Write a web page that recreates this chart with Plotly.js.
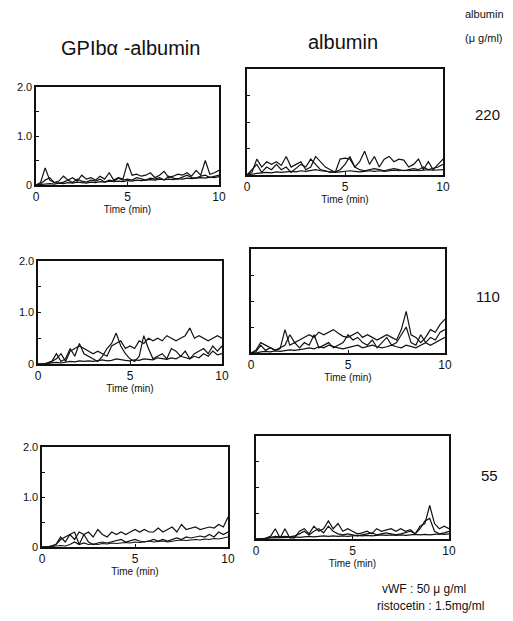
<!DOCTYPE html>
<html><head><meta charset="utf-8">
<script src="https://cdn.plot.ly/plotly-3.0.1.min.js"></script>
<style>html,body{margin:0;padding:0;background:#fff}</style>
</head><body><div id="chart" style="width:513px;height:621px"></div>
<script>
// time points (min)
const time = [0,0.25,0.5,0.75,1,1.25,1.5,1.75,2,2.25,2.5,2.75,3,3.25,3.5,3.75,4,4.25,4.5,4.75,5,5.25,5.5,5.75,6,6.25,6.5,6.75,7,7.25,7.5,7.75,8,8.25,8.5,8.75,9,9.25,9.5,9.75,10];

// GPIbα-albumin, 220 µg/ml
const gpib220_a = [0,0.05,0.35,0.1,0.05,0.08,0.18,0.1,0.15,0.08,0.2,0.12,0.15,0.1,0.18,0.12,0.25,0.1,0.15,0.12,0.45,0.2,0.22,0.18,0.2,0.25,0.15,0.2,0.28,0.15,0.18,0.22,0.2,0.25,0.18,0.3,0.2,0.5,0.22,0.25,0.3];
const gpib220_b = [0,0.02,0.1,0.15,0.05,0.04,0.06,0.1,0.05,0.12,0.08,0.06,0.1,0.08,0.12,0.06,0.1,0.08,0.14,0.1,0.12,0.1,0.15,0.12,0.1,0.14,0.12,0.15,0.1,0.18,0.14,0.12,0.16,0.2,0.15,0.14,0.18,0.2,0.15,0.18,0.2];
const gpib220_c = [0,0.01,0.02,0.03,0.02,0.04,0.03,0.05,0.04,0.06,0.05,0.04,0.06,0.05,0.07,0.06,0.08,0.07,0.08,0.07,0.09,0.08,0.1,0.09,0.1,0.11,0.1,0.12,0.11,0.12,0.11,0.13,0.12,0.14,0.13,0.14,0.15,0.14,0.16,0.15,0.17];
// albumin, 220 µg/ml
const alb220_a = [0,0.05,0.3,0.15,0.25,0.2,0.25,0.18,0.35,0.15,0.2,0.25,0.1,0.15,0.35,0.25,0.15,0.1,0.05,0.3,0.32,0.3,0.15,0.25,0.45,0.2,0.35,0.15,0.3,0.35,0.25,0.3,0.28,0.15,0.2,0.3,0.1,0.25,0.1,0.2,0.3];
const alb220_b = [0,0.1,0.2,0.05,0.15,0.1,0.2,0.1,0.15,0.05,0.12,0.2,0.15,0.3,0.2,0.1,0.08,0.05,0.06,0.1,0.2,0.35,0.15,0.1,0.08,0.1,0.12,0.1,0.08,0.1,0.12,0.1,0.08,0.1,0.12,0.1,0.15,0.1,0.12,0.15,0.2];
const alb220_c = [0,0.02,0.03,0.04,0.05,0.04,0.06,0.05,0.06,0.07,0.06,0.08,0.07,0.08,0.1,0.08,0.07,0.06,0.05,0.06,0.07,0.08,0.07,0.06,0.07,0.08,0.07,0.08,0.07,0.08,0.09,0.08,0.09,0.08,0.09,0.08,0.09,0.1,0.09,0.1,0.1];
// GPIbα-albumin, 110 µg/ml
const gpib110_a = [0,0,0.02,0.05,0.1,0.2,0.05,0.25,0.3,0.35,0.3,0.25,0.2,0.25,0.2,0.15,0.35,0.4,0.45,0.3,0.35,0.3,0.45,0.4,0.5,0.45,0.5,0.45,0.55,0.5,0.45,0.5,0.55,0.7,0.5,0.55,0.5,0.45,0.5,0.55,0.5];
const gpib110_b = [0,0,0.02,0.05,0.2,0.05,0.1,0.3,0.15,0.4,0.2,0.15,0.1,0.05,0.15,0.3,0.4,0.6,0.35,0.2,0.1,0.05,0.15,0.55,0.3,0.1,0.15,0.2,0.1,0.3,0.25,0.15,0.25,0.1,0.2,0.25,0.3,0.2,0.35,0.25,0.35];
const gpib110_c = [0,0,0.01,0.02,0.03,0.02,0.04,0.05,0.04,0.06,0.05,0.06,0.05,0.07,0.08,0.06,0.07,0.1,0.08,0.07,0.06,0.08,0.07,0.1,0.09,0.08,0.12,0.1,0.09,0.12,0.1,0.15,0.12,0.1,0.15,0.12,0.2,0.15,0.25,0.18,0.2];
// albumin, 110 µg/ml
const alb110_a = [0,0.05,0.2,0.15,0.1,0.05,0.1,0.15,0.35,0.2,0.25,0.3,0.35,0.3,0.4,0.35,0.4,0.45,0.38,0.32,0.3,0.35,0.4,0.3,0.35,0.3,0.25,0.3,0.35,0.3,0.25,0.45,0.8,0.35,0.3,0.2,0.3,0.45,0.4,0.55,0.65];
const alb110_b = [0,0.02,0.15,0.05,0.1,0.05,0.08,0.45,0.15,0.2,0.1,0.2,0.15,0.35,0.1,0.15,0.2,0.1,0.15,0.2,0.35,0.25,0.3,0.2,0.15,0.25,0.1,0.2,0.3,0.15,0.2,0.35,0.5,0.2,0.15,0.35,0.2,0.3,0.25,0.4,0.45];
const alb110_c = [0,0,0.02,0.03,0.02,0.04,0.03,0.05,0.06,0.05,0.06,0.08,0.1,0.08,0.12,0.1,0.15,0.12,0.1,0.08,0.1,0.12,0.15,0.1,0.12,0.15,0.12,0.1,0.12,0.15,0.12,0.1,0.15,0.12,0.1,0.15,0.2,0.15,0.2,0.25,0.3];
// GPIbα-albumin, 55 µg/ml
const gpib55_a = [0,0,0.02,0.05,0.15,0.2,0.25,0.15,0.3,0.25,0.3,0.2,0.35,0.25,0.2,0.3,0.25,0.3,0.25,0.3,0.35,0.3,0.35,0.3,0.3,0.38,0.3,0.35,0.4,0.3,0.45,0.35,0.38,0.4,0.35,0.38,0.4,0.38,0.45,0.4,0.6];
const gpib55_b = [0,0,0.02,0.05,0.2,0.1,0.25,0.3,0.05,0.25,0.1,0.05,0.08,0.1,0.08,0.1,0.12,0.15,0.1,0.12,0.15,0.12,0.1,0.12,0.15,0.12,0.15,0.12,0.15,0.18,0.15,0.2,0.18,0.2,0.22,0.2,0.25,0.2,0.3,0.25,0.3];
const gpib55_c = [0,0,0.01,0.02,0.03,0.02,0.05,0.1,0.05,0.08,0.05,0.06,0.05,0.07,0.06,0.08,0.07,0.08,0.09,0.08,0.1,0.09,0.1,0.12,0.1,0.11,0.12,0.1,0.12,0.13,0.14,0.13,0.14,0.15,0.14,0.16,0.15,0.17,0.16,0.18,0.2];
// albumin, 55 µg/ml
const alb55_a = [0,0,0.02,0.05,0.2,0.02,0.2,0.02,0.02,0.15,0.2,0.1,0.25,0.15,0.2,0.35,0.2,0.3,0.15,0.2,0.15,0.1,0.12,0.15,0.1,0.2,0.15,0.18,0.2,0.15,0.2,0.15,0.18,0.1,0.25,0.3,0.65,0.3,0.2,0.25,0.2];
const alb55_b = [0,0,0.01,0.03,0.05,0.04,0.05,0.04,0.06,0.1,0.15,0.08,0.15,0.2,0.12,0.25,0.15,0.1,0.08,0.1,0.08,0.06,0.08,0.1,0.12,0.08,0.1,0.12,0.1,0.08,0.1,0.12,0.15,0.1,0.2,0.35,0.4,0.15,0.1,0.12,0.15];
const alb55_c = [0,0,0.01,0.02,0.02,0.03,0.02,0.03,0.04,0.03,0.04,0.05,0.04,0.05,0.06,0.05,0.06,0.05,0.06,0.05,0.06,0.07,0.06,0.07,0.06,0.07,0.08,0.07,0.08,0.07,0.08,0.07,0.08,0.09,0.08,0.09,0.08,0.09,0.1,0.09,0.1];

const xTickVals = [0,5,10];
const xTickText = ["0","5","10"];
const yTickVals = [0,0.5,1,1.5,2];
const yTickText = ["0","","1.0","","2.0"];
const columnTitles = ["GPIbα -albumin","albumin"];
const rowLabels = ["220","110","55"];

const panels = [
  [gpib220_a,gpib220_b,gpib220_c],
  [alb220_a,alb220_b,alb220_c],
  [gpib110_a,gpib110_b,gpib110_c],
  [alb110_a,alb110_b,alb110_c],
  [gpib55_a,gpib55_b,gpib55_c],
  [alb55_a,alb55_b,alb55_c]
];

const W=513,H=621;
// panel boxes in pixels [left,right,top,bottom]
const boxes = [
  [36,219,87,185],[247,443,69,175],
  [38,222,261,364],[251,445,249,353],
  [42,228,447,547],[256,449,436,539]
];

const font = {family:"Liberation Sans, Arial, sans-serif", color:"#111"};
const traces=[];
const layout = {width:W,height:H,margin:{l:0,r:0,t:0,b:0},paper_bgcolor:"#fff",plot_bgcolor:"#fff",showlegend:false,annotations:[]};

panels.forEach((series,i)=>{
  const n=i+1;
  const xa = n===1?'x':'x'+n, ya = n===1?'y':'y'+n;
  series.forEach(s=>traces.push({x:time,y:s,xaxis:xa,yaxis:ya,type:'scatter',mode:'lines',line:{color:'#111',width:1.2},hoverinfo:'skip'}));
  const b=boxes[i];
  const left = i%2===0;
  layout[n===1?'xaxis':'xaxis'+n] = {
    domain:[b[0]/W,b[1]/W], anchor:ya, range:[0,10], tickvals:xTickVals, ticktext:xTickText,
    showline:true, mirror:true, linecolor:'#111', linewidth:1.6, showgrid:false, zeroline:false,
    ticks:'inside', ticklen:3, tickcolor:'#111', tickfont:{family:font.family,color:'#111',size:12},
    title:{text:'Time (min)',font:{family:font.family,color:'#111',size:10},standoff:1}
  };
  layout[n===1?'yaxis':'yaxis'+n] = {
    domain:[1-b[3]/H,1-b[2]/H], anchor:xa, range:[0,2], tickvals:yTickVals,
    ticktext: left?yTickText:yTickVals.map(()=>""),
    showline:true, mirror:true, linecolor:'#111', linewidth:1.6, showgrid:false, zeroline:false,
    ticks:'inside', ticklen:3, tickcolor:'#111', tickfont:{family:font.family,color:'#111',size:11}
  };
});

const ann=(text,x,y,size)=>layout.annotations.push({text,x:x/W,y:1-y/H,xref:'paper',yref:'paper',xanchor:'center',yanchor:'middle',showarrow:false,font:{family:font.family,color:'#111',size}});
ann(columnTitles[0],130,48,20);
ann(columnTitles[1],343,42,20);
ann('albumin',484,14,11);
ann('(μ g/ml)',484,38,11);
ann(rowLabels[0],487,115,15);
ann(rowLabels[1],488,296,15);
ann(rowLabels[2],489,475,15);
ann('vWF : 50 μ g/ml',424,589,12);
ann('ristocetin : 1.5mg/ml',430,606,12);

Plotly.newPlot('chart',traces,layout,{staticPlot:true});
</script></body></html>
